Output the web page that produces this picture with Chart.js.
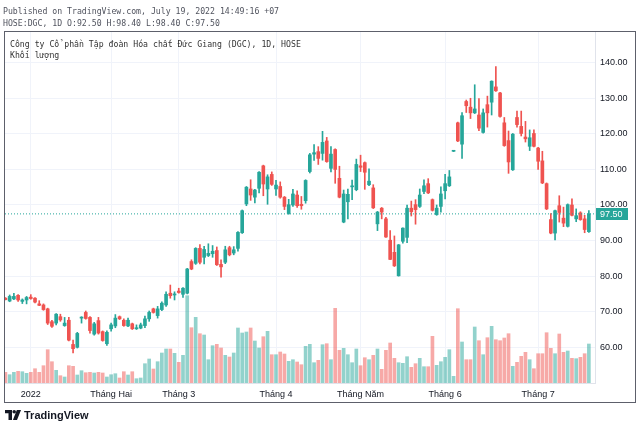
<!DOCTYPE html>
<html>
<head>
<meta charset="utf-8">
<script src="https://cdn.jsdelivr.net/npm/chart.js@4.4.0/dist/chart.umd.min.js"></script>
<style>
  html, body { margin: 0; padding: 0; background: #fff; }
  #wrap { position: relative; width: 640px; height: 429px; overflow: hidden; }
  #c { position: absolute; left: 0; top: 0; }
  .mono { position: absolute; font-family: "DejaVu Sans Mono", monospace; font-size: 8.2px; line-height: 10px; white-space: nowrap; }
  #frame { position: absolute; left: 4px; top: 31px; width: 630px; height: 370px; border: 1px solid #5d606b; pointer-events: none; }
  #logo { position: absolute; left: 5px; top: 409px; height: 12px; display: flex; align-items: center; font-family: "Liberation Sans", Arial, sans-serif; font-weight: 700; font-size: 11px; color: #131722; }
  #logo svg { margin-right: 3px; }
</style>
</head>
<body>
<div id="wrap">
  <canvas id="c" width="640" height="429"></canvas>
  <div class="mono" style="left:3px; top:6px; color:#50535e;">Published on TradingView.com, July 19, 2022 14:49:16 +07</div>
  <div class="mono" style="left:3px; top:18px; color:#50535e;">HOSE:DGC, 1D O:92.50 H:98.40 L:98.40 C:97.50</div>
  <div id="frame"></div>
  <div class="mono" style="left:10px; top:39px; color:#333;">C&#xF4;ng ty C&#x1ED5; ph&#x1EA7;n T&#x1EAD;p &#x111;o&#xE0;n H&#xF3;a ch&#x1EA5;t &#x110;&#x1EE9;c Giang (DGC), 1D, HOSE</div>
  <div class="mono" style="left:10px; top:49.5px; color:#333;">Kh&#x1ED1;i l&#x1B0;&#x1EE3;ng</div>
  <div id="logo">
    <svg width="16" height="10" viewBox="0 0 16 10"><path d="M0 0H7V10H3.5V3.2H0Z" fill="#131722"/><circle cx="9.2" cy="1.8" r="1.8" fill="#131722"/><path d="M11.8 0H16L12 10H7.9Z" fill="#131722"/></svg>
    <span>TradingView</span>
  </div>
</div>
<script>
// phiên giao dịch: 24/12/2021 -> 19/07/2022 (bỏ cuối tuần + ngày nghỉ lễ)
var holidays = ['2022-01-03', '2022-01-31', '2022-02-01', '2022-02-02', '2022-02-03', '2022-02-04', '2022-04-11', '2022-05-02', '2022-05-03'];
var dates = [];
(function () {
    var d = new Date(Date.UTC(2021, 11, 24));
    var end = new Date(Date.UTC(2022, 6, 19));
    while (d <= end) {
        var s = d.toISOString().slice(0, 10);
        var wd = d.getUTCDay();
        if (wd !== 0 && wd !== 6 && holidays.indexOf(s) < 0) dates.push(s);
        d.setUTCDate(d.getUTCDate() + 1);
    }
})();

var opens = [73.8, 73.0, 73.6, 74.6, 72.9, 73.3, 74.1, 73.8, 72.2, 71.9,
    70.8, 67.2, 66.8, 68.6, 66.1, 67.6, 60.8, 60.0, 68.2, 69.8,
    68.4, 63.7, 67.5, 64.4, 61.0, 65.2, 66.0, 68.6, 67.6, 66.0,
    66.6, 65.2, 65.4, 66.1, 68.0, 70.8, 68.9, 70.6, 71.9, 75.2,
    74.7, 75.8, 74.9, 75.2, 84.1, 83.6, 87.8, 85.3, 85.8, 86.3,
    87.2, 83.3, 83.9, 88.0, 86.5, 87.8, 92.2, 100.3, 104.5, 102.2,
    104.7, 111.0, 104.5, 108.6, 104.5, 105.2, 102.2, 97.6, 100.0, 102.8,
    100.2, 101.2, 109.4, 114.3, 115.0, 114.5, 118.0, 110.3, 115.6, 107.5,
    95.2, 100.9, 105.1, 104.3, 111.0, 111.9, 105.7, 104.8, 94.7, 99.1,
    96.1, 90.1, 86.7, 80.1, 89.8, 90.9, 99.1, 100.1, 99.6, 103.8,
    106.0, 101.5, 97.3, 99.6, 104.0, 105.4, 115.1, 123.1, 117.1, 129.1,
    127.5, 125.9, 125.3, 120.4, 128.2, 128.9, 133.2, 131.5, 123.1, 118.1,
    109.9, 124.6, 122.1, 119.1, 116.5, 120.1, 116.0, 112.4, 106.0, 95.9,
    92.1, 99.8, 96.3, 94.0, 100.0, 96.1, 97.8, 96.1, 92.5];
var highs = [74.0, 74.7, 75.2, 74.8, 73.6, 74.3, 74.8, 74.0, 73.1, 72.2,
    71.0, 67.6, 69.5, 69.3, 68.4, 68.4, 62.0, 64.2, 68.6, 70.2,
    68.6, 67.0, 68.4, 64.6, 64.6, 66.8, 69.2, 68.8, 68.0, 68.2,
    66.8, 66.3, 66.8, 68.8, 70.2, 71.0, 71.5, 72.8, 75.6, 77.5,
    75.6, 76.6, 76.8, 82.2, 84.6, 88.0, 88.9, 88.4, 89.1, 88.6,
    88.2, 84.6, 88.4, 88.4, 88.3, 92.5, 98.6, 105.2, 107.1, 104.4,
    109.4, 111.2, 108.5, 109.3, 106.9, 106.5, 102.4, 101.6, 104.4, 104.0,
    102.4, 107.1, 114.5, 117.0, 116.4, 120.7, 119.0, 116.4, 115.8, 110.9,
    104.2, 104.5, 107.0, 112.9, 114.0, 112.1, 110.2, 105.7, 98.2, 99.3,
    96.5, 92.8, 91.3, 88.9, 93.6, 100.0, 101.1, 101.5, 104.5, 107.1,
    107.4, 101.7, 100.0, 105.1, 108.6, 109.7, 115.3, 123.3, 126.0, 129.5,
    130.0, 133.8, 129.9, 127.0, 130.6, 134.9, 138.9, 131.7, 124.6, 120.8,
    120.1, 126.4, 126.4, 123.5, 121.1, 121.1, 116.2, 115.1, 106.2, 97.6,
    98.6, 102.6, 99.4, 100.3, 101.7, 98.9, 98.1, 97.1, 98.4];
var lows = [73.3, 72.8, 73.4, 72.9, 72.3, 72.2, 73.5, 72.5, 71.7, 70.4,
    66.4, 65.6, 66.3, 67.3, 65.9, 61.8, 58.4, 59.8, 66.8, 67.9,
    64.0, 63.4, 63.7, 61.7, 60.5, 64.5, 65.5, 67.8, 65.9, 65.8,
    65.0, 65.0, 65.2, 65.5, 67.3, 69.6, 68.2, 70.3, 71.5, 73.8,
    73.3, 75.2, 74.0, 75.0, 81.8, 83.3, 83.4, 83.4, 85.5, 85.3,
    83.0, 79.7, 83.5, 85.7, 86.0, 87.0, 92.0, 99.8, 101.3, 100.6,
    103.4, 102.6, 100.2, 105.5, 102.7, 101.9, 98.7, 97.4, 99.6, 99.3,
    98.8, 100.5, 109.0, 112.5, 111.4, 112.6, 112.0, 109.3, 106.1, 102.0,
    95.0, 96.1, 101.5, 104.0, 109.4, 104.4, 105.4, 99.0, 92.8, 96.1,
    90.9, 84.6, 82.7, 80.0, 89.3, 89.4, 96.9, 94.6, 99.3, 103.2,
    103.2, 98.3, 97.1, 98.0, 101.7, 105.2, 115.0, 117.8, 113.1, 126.0,
    124.3, 125.7, 120.9, 120.2, 121.9, 125.3, 131.9, 124.7, 116.5, 108.9,
    109.7, 121.9, 119.4, 117.7, 115.3, 116.3, 110.0, 106.0, 98.7, 91.9,
    90.2, 95.2, 93.9, 93.8, 96.9, 95.3, 95.7, 92.2, 92.3];
var closes = [73.4, 74.3, 74.3, 73.3, 73.3, 74.0, 73.7, 72.7, 71.8, 70.6,
    66.8, 65.9, 69.3, 67.7, 66.8, 62.0, 59.6, 63.9, 68.4, 68.1,
    64.7, 66.6, 64.0, 61.9, 64.2, 66.3, 68.2, 68.0, 66.1, 67.6,
    65.2, 65.5, 66.3, 68.0, 69.8, 69.8, 70.8, 72.4, 74.9, 74.5,
    75.0, 75.4, 76.6, 82.0, 82.0, 87.8, 83.9, 87.5, 86.4, 87.0,
    83.2, 82.6, 87.4, 86.0, 87.4, 92.3, 98.4, 105.0, 102.8, 104.2,
    109.2, 105.9, 107.9, 105.8, 105.6, 102.2, 99.6, 100.1, 103.1, 99.8,
    99.8, 106.9, 114.1, 114.7, 113.1, 117.6, 112.2, 114.3, 110.0, 102.2,
    103.1, 103.0, 105.3, 111.4, 110.6, 109.2, 106.7, 99.2, 98.0, 98.0,
    91.0, 84.7, 82.9, 88.8, 93.5, 99.1, 98.1, 98.7, 102.8, 105.4,
    103.4, 98.5, 99.1, 103.1, 106.0, 107.9, 115.3, 118.0, 125.1, 127.9,
    125.9, 127.0, 121.6, 125.9, 125.9, 134.8, 132.1, 124.9, 116.7, 112.1,
    119.9, 122.6, 120.1, 118.6, 118.9, 116.5, 112.3, 106.2, 98.9, 92.1,
    98.4, 97.9, 94.9, 100.1, 97.1, 97.0, 95.9, 93.1, 97.5];
// khối lượng (triệu cp)
var volumes = [1.07, 0.83, 1.07, 1.17, 1.13, 0.97, 1.07, 1.43, 1.07, 1.73,
    3.33, 2.13, 1.27, 0.73, 0.60, 1.73, 1.67, 0.80, 1.23, 1.03,
    1.07, 1.00, 1.07, 1.00, 0.60, 0.83, 0.93, 0.50, 1.13, 0.80,
    1.13, 0.43, 0.50, 1.93, 2.40, 1.40, 2.13, 3.00, 3.40, 3.40,
    2.97, 2.07, 2.77, 8.73, 5.53, 6.57, 4.93, 4.80, 2.33, 3.73,
    3.87, 3.50, 2.77, 2.60, 3.00, 5.50, 5.00, 5.10, 5.50, 4.20,
    3.50, 4.63, 5.17, 2.83, 2.83, 3.10, 2.90, 2.17, 2.33, 2.10,
    1.83, 3.67, 3.87, 2.03, 2.27, 3.83, 3.93, 2.33, 7.47, 3.27,
    3.47, 2.83, 2.03, 3.40, 1.73, 2.53, 2.33, 2.77, 3.40, 1.37,
    3.27, 4.00, 2.47, 2.03, 1.97, 2.63, 1.57, 1.93, 2.47, 1.63,
    1.63, 4.67, 1.77, 2.13, 2.57, 3.33, 0.67, 7.43, 4.10, 2.33,
    2.33, 5.60, 4.23, 2.83, 4.53, 5.67, 4.33, 4.23, 4.50, 4.93,
    1.67, 2.07, 2.67, 3.07, 2.33, 1.43, 2.93, 2.93, 5.03, 3.47,
    2.93, 4.90, 3.07, 3.20, 2.47, 2.43, 2.57, 2.93, 3.90];
var priceTicks = [60, 70, 80, 90, 100, 110, 120, 130, 140];
var monthNames = ['2022', 'Tháng Hai', 'Tháng 3', 'Tháng 4', 'Tháng Năm', 'Tháng 6', 'Tháng 7'];
var lastClose = 97.5;

var UP = '#26a69a', DOWN = '#ef5350';
var UP_VOL = 'rgba(38,166,154,0.5)', DOWN_VOL = 'rgba(239,83,80,0.5)';
var isUp = closes.map(function (c, i) { return c >= opens[i]; });

// vị trí nhãn tháng = phiên đầu tiên của mỗi tháng
var monthTicks = [];
dates.forEach(function (d, i) {
    if (i > 0 && d.slice(5, 7) !== dates[i - 1].slice(5, 7)) monthTicks.push(i);
});

var axisFont = { family: '"Liberation Sans", Arial, sans-serif', size: 9 };

var lastPricePlugin = {
    id: 'lastPrice',
    afterDraw: function (chart) {
        var ctx = chart.ctx;
        var y = Math.round(chart.scales.y.getPixelForValue(lastClose));
        var x = chart.chartArea.right + 1;
        ctx.save();
        ctx.fillStyle = UP;
        ctx.fillRect(x, y - 6, 32, 12);
        ctx.fillStyle = '#fff';
        ctx.font = '9px "Liberation Sans", Arial, sans-serif';
        ctx.textBaseline = 'middle';
        ctx.fillText(lastClose.toFixed(2), x + 4, y + 0.5);
        ctx.restore();
    }
};

new Chart(document.getElementById('c'), {
    type: 'bar',
    data: {
        datasets: [{
            label: 'Thân nến',
            data: dates.map(function (d, i) { return { x: i, y: [opens[i], closes[i]] }; }),
            backgroundColor: isUp.map(function (u) { return u ? UP : DOWN; }),
            barThickness: 3,
            minBarLength: 1,
            grouped: false,
            order: 1
        }, {
            label: 'Bóng nến',
            data: dates.map(function (d, i) { return { x: i, y: [lows[i], highs[i]] }; }),
            backgroundColor: isUp.map(function (u) { return u ? UP : DOWN; }),
            barThickness: 1,
            grouped: false,
            order: 2
        }, {
            label: 'Khối lượng',
            data: dates.map(function (d, i) { return { x: i, y: volumes[i] }; }),
            backgroundColor: isUp.map(function (u) { return u ? UP_VOL : DOWN_VOL; }),
            barThickness: 3,
            grouped: false,
            yAxisID: 'yv',
            order: 3
        }, {
            type: 'line',
            label: 'Giá đóng cửa',
            data: [{ x: -0.1, y: lastClose }, { x: 139.45, y: lastClose }],
            borderColor: UP,
            borderWidth: 1,
            borderDash: [1, 2],
            pointRadius: 0,
            order: 0
        }]
    },
    options: {
        responsive: false,
        devicePixelRatio: 1,
        animation: false,
        layout: { padding: { left: 5, top: 32, right: 4, bottom: 26 } },
        plugins: { legend: { display: false }, tooltip: { enabled: false } },
        scales: {
            x: {
                type: 'linear',
                min: -0.1,
                max: 139.45,
                offset: false,
                afterBuildTicks: function (scale) {
                    scale.ticks = monthTicks.map(function (v) { return { value: v }; });
                },
                afterFit: function (scale) { scale.height = 20; },
                grid: { color: '#f0f3fa', drawTicks: false, offset: false },
                border: { color: '#e0e3eb' },
                ticks: {
                    autoSkip: false,
                    maxRotation: 0,
                    padding: 6,
                    color: '#131722',
                    font: axisFont,
                    callback: function (v, idx) { return monthNames[idx]; }
                }
            },
            y: {
                position: 'right',
                min: 49.96,
                max: 148.63,
                afterBuildTicks: function (scale) {
                    scale.ticks = priceTicks.map(function (v) { return { value: v }; });
                },
                afterFit: function (scale) { scale.width = 41; },
                grid: { color: '#f0f3fa', drawTicks: false },
                border: { color: '#e0e3eb' },
                ticks: {
                    padding: 5,
                    color: '#131722',
                    font: axisFont,
                    callback: function (v) { return v.toFixed(2); }
                }
            },
            yv: {
                display: false,
                min: 0,
                max: 35.1
            }
        }
    },
    plugins: [lastPricePlugin]
});
</script>
</body>
</html>
